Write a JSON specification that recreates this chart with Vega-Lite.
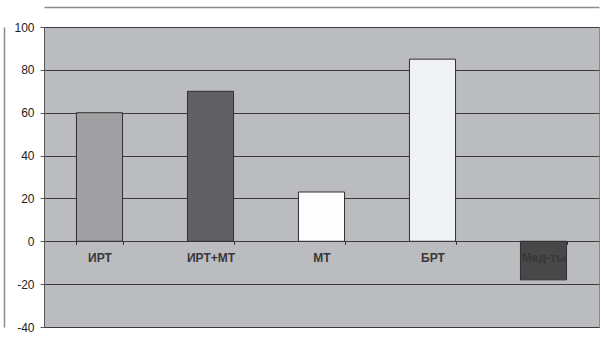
{
  "$schema": "https://vega.github.io/schema/vega-lite/v6.json",
  "width": 555,
  "height": 300,
  "autosize": "none",
  "padding": {"left": 44, "top": 27, "right": 2, "bottom": 13},
  "background": "white",
  "config": {
    "font": "Liberation Sans",
    "view": {"fill": "#bbbcc0", "stroke": "#8a8a8c", "strokeWidth": 1}
  },
  "data": {
    "values": [
      {"group": "ИРТ", "value": 60},
      {"group": "ИРТ+МТ", "value": 70},
      {"group": "МТ", "value": 23},
      {"group": "БРТ", "value": 85},
      {"group": "Мед-ты", "value": -18}
    ]
  },
  "resolve": {"axis": {"x": "independent", "y": "independent"}},
  "layer": [
    {
      "mark": {"type": "bar", "stroke": "#303030", "strokeWidth": 1},
      "encoding": {
        "x": {
          "field": "group",
          "type": "nominal",
          "sort": null,
          "scale": {"paddingInner": 0.585, "paddingOuter": 0.2925},
          "axis": {
            "title": null,
            "orient": "bottom",
            "offset": -85.7,
            "zindex": 1,
            "domain": false,
            "grid": false,
            "tickBand": "extent",
            "ticks": true,
            "tickSize": 3,
            "tickColor": "#303030",
            "labelAngle": 0,
            "labelPadding": 8,
            "labelFont": "Liberation Sans",
            "labelFontSize": 12,
            "labelFontWeight": "bold",
            "labelColor": "#383838"
          }
        },
        "y": {
          "field": "value",
          "type": "quantitative",
          "scale": {"domain": [-40, 100], "nice": false, "zero": false},
          "axis": {
            "title": null,
            "values": [-40, -20, 0, 20, 40, 60, 80, 100],
            "labelExpr": "datum.value < 0 ? '-' + abs(datum.value) : '' + datum.value",
            "grid": true,
            "gridColor": "#3c3c3c",
            "gridWidth": 1.2,
            "gridOpacity": 1,
            "domainColor": "#555555",
            "domainWidth": 1,
            "tickColor": "#555555",
            "tickSize": 4,
            "labelPadding": 6,
            "labelFont": "Liberation Sans",
            "labelFontSize": 12,
            "labelColor": "#222222",
            "zindex": 0
          }
        },
        "color": {
          "field": "group",
          "type": "nominal",
          "sort": null,
          "legend": null,
          "scale": {
            "domain": ["ИРТ", "ИРТ+МТ", "МТ", "БРТ", "Мед-ты"],
            "range": ["#a0a0a3", "#616165", "#fdfdfd", "#f1f2f4", "#484848"]
          }
        }
      }
    },
    {
      "mark": {"type": "bar", "opacity": 0},
      "encoding": {
        "x": {
          "field": "group",
          "type": "nominal",
          "sort": null,
          "axis": {
            "title": null,
            "orient": "top",
            "offset": 20,
            "labels": false,
            "ticks": false,
            "grid": false,
            "domainColor": "#8c8c8c",
            "domainWidth": 1.5
          }
        },
        "y": {
          "field": "value",
          "type": "quantitative",
          "axis": {
            "title": null,
            "orient": "left",
            "offset": 40,
            "labels": false,
            "ticks": false,
            "grid": false,
            "domainColor": "#8c8c8c",
            "domainWidth": 1.5
          }
        }
      }
    }
  ]
}
